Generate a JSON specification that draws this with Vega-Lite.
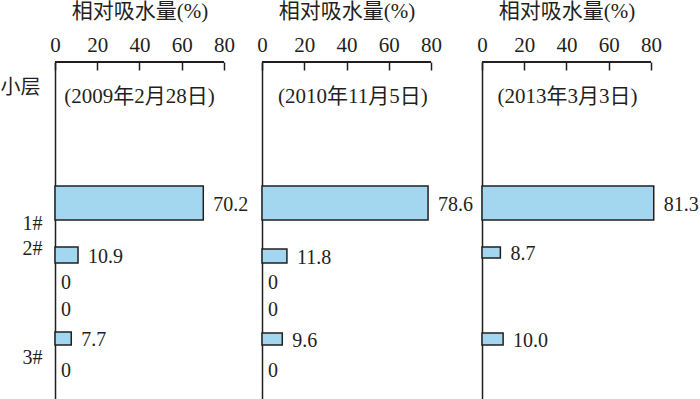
{
  "$schema": "https://vega.github.io/schema/vega-lite/v6.json",
  "padding": {"left": 0, "top": 0, "right": 0, "bottom": 0},
  "background": "white",
  "bounds": "flush",
  "spacing": 0,
  "config": {
    "font": "Liberation Serif, Noto Sans CJK SC",
    "view": {"stroke": null},
    "axis": {
      "domainColor": "#231f20",
      "domainWidth": 1.5,
      "tickColor": "#231f20",
      "tickWidth": 1.5,
      "labelColor": "#231f20",
      "titleColor": "#231f20",
      "labelFont": "Liberation Serif, Noto Sans CJK SC",
      "titleFont": "Liberation Serif, Noto Sans CJK SC",
      "titleFontWeight": "normal",
      "labelFlush": false,
      "labelOverlap": false,
      "grid": false
    },
    "text": {"color": "#231f20", "fontSize": 20, "font": "Liberation Serif, Noto Sans CJK SC"},
    "rule": {"color": "#231f20", "strokeWidth": 1.5}
  },
  "datasets": {
    "bars": [
      {"date": "2009年2月28日", "value": 70.2, "label": "70.2", "top": 12.4, "bottom": 15.8, "mid": 14.1},
      {"date": "2009年2月28日", "value": 10.9, "label": "10.9", "top": 18.5, "bottom": 20.1, "mid": 19.3},
      {"date": "2009年2月28日", "value": 0, "label": "0", "mid": 22.1},
      {"date": "2009年2月28日", "value": 0, "label": "0", "mid": 24.8},
      {"date": "2009年2月28日", "value": 7.7, "label": "7.7", "top": 27.0, "bottom": 28.3, "mid": 27.65},
      {"date": "2009年2月28日", "value": 0, "label": "0", "mid": 30.9},
      {"date": "2010年11月5日", "value": 78.6, "label": "78.6", "top": 12.4, "bottom": 15.8, "mid": 14.1},
      {"date": "2010年11月5日", "value": 11.8, "label": "11.8", "top": 18.7, "bottom": 20.1, "mid": 19.4},
      {"date": "2010年11月5日", "value": 0, "label": "0", "mid": 22.1},
      {"date": "2010年11月5日", "value": 0, "label": "0", "mid": 24.8},
      {"date": "2010年11月5日", "value": 9.6, "label": "9.6", "top": 27.1, "bottom": 28.3, "mid": 27.7},
      {"date": "2010年11月5日", "value": 0, "label": "0", "mid": 30.9},
      {"date": "2013年3月3日", "value": 81.3, "label": "81.3", "top": 12.4, "bottom": 15.8, "mid": 14.1},
      {"date": "2013年3月3日", "value": 8.7, "label": "8.7", "top": 18.5, "bottom": 19.6, "mid": 19.05},
      {"date": "2013年3月3日", "value": 10.0, "label": "10.0", "top": 27.1, "bottom": 28.3, "mid": 27.7}
    ]
  },
  "hconcat": [
    {
      "width": 207,
      "height": 338,
      "data": {"name": "bars"},
      "transform": [{"filter": "datum.date == '2009年2月28日'"}],
      "encoding": {
        "x": {"type": "quantitative", "scale": {"domain": [0, 97.99], "nice": false},
          "axis": {"orient": "top", "domain": false, "values": [0, 20, 40, 60, 80], "title": "相对吸水量(%)", "titleFontSize": 21, "labelFontSize": 21, "tickSize": -8, "labelPadding": 14.5, "titlePadding": 13, "titleX": 84.5}},
        "y": {"type": "quantitative", "scale": {"domain": [0, 33.8], "nice": false, "reverse": true, "zero": false},
          "axis": {"orient": "left", "values": [16.1, 18.6, 29.55], "labelExpr": "datum.value == 16.1 ? '1#' : datum.value == 18.6 ? '2#' : '3#'", "ticks": false, "labelPadding": 13, "labelFontSize": 20, "title": "小层", "titleAngle": 0, "titleX": -15, "titleY": 25, "titleAlign": "right", "titleBaseline": "middle", "titleFontSize": 20}}
      },
      "layer": [
        {"mark": {"type": "rule"}, "encoding": {"x": {"datum": 0}, "x2": {"datum": 80}, "y": {"datum": 0}}},
        {"transform": [{"filter": "datum.value > 0"}],
         "mark": {"type": "rect", "fill": "#a3d6ef", "stroke": "#231f20", "strokeWidth": 1.5, "clip": false},
         "encoding": {"x": {"field": "value"}, "x2": {"datum": 0}, "y": {"field": "top"}, "y2": {"field": "bottom"}}},
        {"transform": [{"filter": "datum.value > 0"}],
         "mark": {"type": "text", "align": "left", "baseline": "middle", "dx": 10, "dy": 1.5},
         "encoding": {"x": {"field": "value"}, "y": {"field": "mid"}, "text": {"field": "label"}}},
        {"transform": [{"filter": "datum.value == 0"}],
         "mark": {"type": "text", "align": "left", "baseline": "middle", "dx": 6},
         "encoding": {"x": {"field": "value"}, "y": {"field": "mid"}, "text": {"field": "label"}}},
        {"data": {"values": [{"subtitle": "(2009年2月28日)"}]},
         "mark": {"type": "text", "align": "center", "baseline": "middle", "fontSize": 21},
         "encoding": {"x": {"datum": 40}, "y": {"datum": 3.5}, "text": {"field": "subtitle"}}}
      ]
    },
    {
      "width": 220,
      "height": 338,
      "data": {"name": "bars"},
      "transform": [{"filter": "datum.date == '2010年11月5日'"}],
      "encoding": {
        "x": {"type": "quantitative", "scale": {"domain": [0, 104.14], "nice": false},
          "axis": {"orient": "top", "domain": false, "values": [0, 20, 40, 60, 80], "title": "相对吸水量(%)", "titleFontSize": 21, "labelFontSize": 21, "tickSize": -8, "labelPadding": 14.5, "titlePadding": 13, "titleX": 84.5}},
        "y": {"type": "quantitative", "scale": {"domain": [0, 33.8], "nice": false, "reverse": true, "zero": false},
          "axis": {"orient": "left", "labels": false, "ticks": false, "title": null}}
      },
      "layer": [
        {"mark": {"type": "rule"}, "encoding": {"x": {"datum": 0}, "x2": {"datum": 80}, "y": {"datum": 0}}},
        {"transform": [{"filter": "datum.value > 0"}],
         "mark": {"type": "rect", "fill": "#a3d6ef", "stroke": "#231f20", "strokeWidth": 1.5, "clip": false},
         "encoding": {"x": {"field": "value"}, "x2": {"datum": 0}, "y": {"field": "top"}, "y2": {"field": "bottom"}}},
        {"transform": [{"filter": "datum.value > 0"}],
         "mark": {"type": "text", "align": "left", "baseline": "middle", "dx": 10, "dy": 1.5},
         "encoding": {"x": {"field": "value"}, "y": {"field": "mid"}, "text": {"field": "label"}}},
        {"transform": [{"filter": "datum.value == 0"}],
         "mark": {"type": "text", "align": "left", "baseline": "middle", "dx": 6},
         "encoding": {"x": {"field": "value"}, "y": {"field": "mid"}, "text": {"field": "label"}}},
        {"data": {"values": [{"subtitle": "(2010年11月5日)"}]},
         "mark": {"type": "text", "align": "center", "baseline": "middle", "fontSize": 21},
         "encoding": {"x": {"datum": 43}, "y": {"datum": 3.5}, "text": {"field": "subtitle"}}}
      ]
    },
    {
      "width": 218,
      "height": 338,
      "data": {"name": "bars"},
      "transform": [{"filter": "datum.date == '2013年3月3日'"}],
      "encoding": {
        "x": {"type": "quantitative", "scale": {"domain": [0, 103.2], "nice": false},
          "axis": {"orient": "top", "domain": false, "values": [0, 20, 40, 60, 80], "title": "相对吸水量(%)", "titleFontSize": 21, "labelFontSize": 21, "tickSize": -8, "labelPadding": 14.5, "titlePadding": 13, "titleX": 84.5}},
        "y": {"type": "quantitative", "scale": {"domain": [0, 33.8], "nice": false, "reverse": true, "zero": false},
          "axis": {"orient": "left", "labels": false, "ticks": false, "title": null}}
      },
      "layer": [
        {"mark": {"type": "rule"}, "encoding": {"x": {"datum": 0}, "x2": {"datum": 80}, "y": {"datum": 0}}},
        {"transform": [{"filter": "datum.value > 0"}],
         "mark": {"type": "rect", "fill": "#a3d6ef", "stroke": "#231f20", "strokeWidth": 1.5, "clip": false},
         "encoding": {"x": {"field": "value"}, "x2": {"datum": 0}, "y": {"field": "top"}, "y2": {"field": "bottom"}}},
        {"transform": [{"filter": "datum.value > 0"}],
         "mark": {"type": "text", "align": "left", "baseline": "middle", "dx": 10, "dy": 1.5},
         "encoding": {"x": {"field": "value"}, "y": {"field": "mid"}, "text": {"field": "label"}}},
        {"data": {"values": [{"subtitle": "(2013年3月3日)"}]},
         "mark": {"type": "text", "align": "center", "baseline": "middle", "fontSize": 21},
         "encoding": {"x": {"datum": 40.5}, "y": {"datum": 3.5}, "text": {"field": "subtitle"}}}
      ]
    }
  ]
}
